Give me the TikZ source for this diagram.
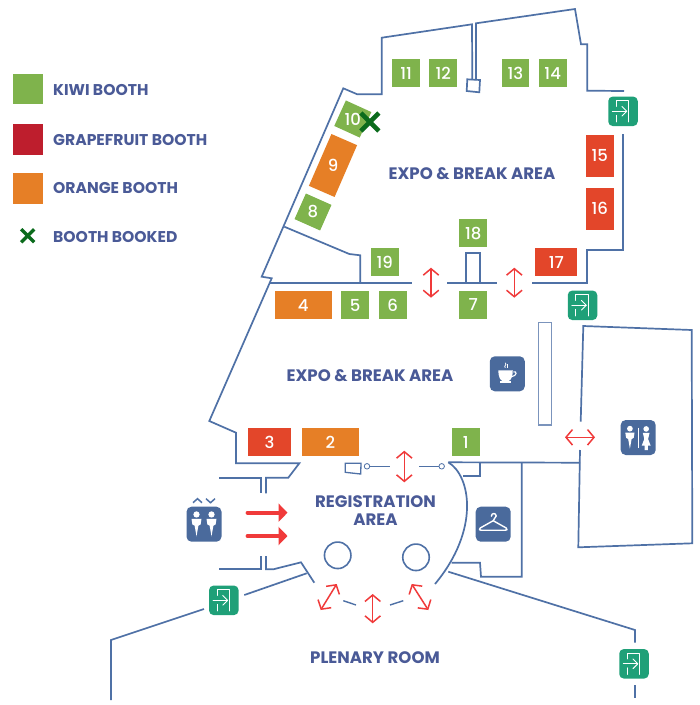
\documentclass[tikz,border=0pt]{standalone}
\usepackage{fontspec}
\setmainfont{Poppins}
\newfontfamily\medfont{Poppins Medium}
\usetikzlibrary{arrows.meta,calc}
\definecolor{wallc}{HTML}{4F71A6}
\definecolor{textc}{HTML}{4A5A97}
\definecolor{kiwi}{HTML}{7FB34C}
\definecolor{grape}{HTML}{E3462A}
\definecolor{grapeleg}{HTML}{BE1E2D}
\definecolor{orangec}{HTML}{E67F26}
\definecolor{booked}{HTML}{0B6B1C}
\definecolor{exitc}{HTML}{1FA078}
\definecolor{iconc}{HTML}{4A6A9C}
\definecolor{arrowc}{HTML}{F03A3A}
\tikzset{
  wall/.style={draw=wallc,line width=1.7pt,line join=miter},
  booth/.style={inner sep=0pt,text=white,font=\fontsize{16.5}{16.5}\selectfont\medfont},
  kb/.style={booth,fill=kiwi},
  gb/.style={booth,fill=grape},
  ob/.style={booth,fill=orangec},
  lab/.style={text=textc,font=\fontsize{16.6}{18}\selectfont\bfseries,align=center,inner sep=0pt},
  leg/.style={text=textc,font=\fontsize{15.6}{15.6}\selectfont\bfseries,anchor=west,inner sep=0pt},
  legsq/.style={minimum width=30.5pt,minimum height=30.5pt,inner sep=0pt},
  redarr/.style={draw=arrowc,line width=1.5pt,{Straight Barb[length=6.5pt,width=15.5pt]}-{Straight Barb[length=6.5pt,width=15.5pt]}},
  bigarr/.style={draw=arrowc,line width=3.8pt,-{Triangle[length=9pt,width=18pt]},line cap=round},
  xmark/.style={draw=booked,line cap=butt},
  exitbox/.style={fill=exitc,rounded corners=4.5pt,minimum width=29.5pt,minimum height=29.5pt,inner sep=0pt},
  iconbox/.style={fill=iconc,rounded corners=5pt,minimum width=35pt,minimum height=35pt,inner sep=0pt},
  iconl/.style={draw=white,line width=1pt,line cap=round,line join=round},
}
\newcommand\exitglyph[1]{%
  \begin{scope}[shift={(#1)}]
    \draw[iconl,line width=.9pt] (-6.7,-5) -- (-6.7,-10.7) -- (5.7,-10.7) -- (5.7,10.7);
    \draw[iconl,line width=.9pt] (-6.7,4) -- (-6.7,10.7);
    \draw[iconl,line width=.9pt] (-10.7,0) -- (3.6,0);
    \draw[iconl,line width=.9pt] (-1,-4.8) -- (3.8,0) -- (-1,4.8);
  \end{scope}}
\newcommand\personm[2][1]{%
  \begin{scope}[shift={(#2)},scale=#1]
    \fill[white] (0,-9) circle (2.5);
    \fill[white] (-4,-5.5) -- (4,-5.5) -- (3.3,-1) -- (1.5,0) -- (0,8.5) -- (-1.5,0) -- (-3.3,-1) -- cycle;
  \end{scope}}
\begin{document}
\begin{tikzpicture}[x=1pt,y=-1pt]
\useasboundingbox (0,0) rectangle (700,705);
\fill[white] (0,0) rectangle (700,705);

% legend
\node[legsq,fill=kiwi] (lk) at (28,89) {};
\node[legsq,fill=grapeleg] (lg) at (28,139.5) {};
\node[legsq,fill=orangec] (lo) at (28,188.5) {};
\node[leg] (tk) at (53,90) {KIWI BOOTH};
\node[leg] (tg) at (53,140) {GRAPEFRUIT BOOTH};
\node[leg] (to) at (53,188) {ORANGE BOOTH};
\node[leg] (tb) at (53,236.5) {BOOTH BOOKED};
\coordinate (lx) at (27.7,235.7);
\draw[xmark,line width=3.4pt] ([shift={(-6.5,-6.5)}]lx) -- ([shift={(6.5,6.5)}]lx);
\draw[xmark,line width=3.4pt] ([shift={(6.5,-6.5)}]lx) -- ([shift={(-6.5,6.5)}]lx);

% walls, upper hall
\draw[wall] (472.3,80) -- (472,24.3) -- (381.7,37.7) -- (381.7,94.3) -- (357.3,94.3) -- (343.3,88.3) -- (261.7,276.7) -- (271.7,278.3) -- (209.3,421) -- (236,432.7) -- (236,463.3) -- (299.3,463.3) -- (288.3,477.7) -- (266,477.7) -- (266,493.3);
\draw[wall] (476,80) -- (476,23.3) -- (575,9) -- (581,44.3) -- (587.3,44.3) -- (587.3,90.7) -- (624,91);
\draw[wall] (467.3,79.3) -- (480,80) -- (479.3,92.3) -- (466.7,91) -- cycle;
\draw[wall] (623.3,134.3) -- (623.3,250) -- (587.3,250) -- (587.3,282.7) -- (531.7,282.7);
\draw[wall] (270,283.3) -- (411.7,283.3);
\draw[wall] (447.3,283.3) -- (496.7,283.3);
\draw[wall] (284.3,226.7) -- (349.3,254) -- (360.3,255.3) -- (360.3,283.3);
\draw[wall] (465.7,283.3) -- (465.7,253.3) -- (480,253.3) -- (480,283.3);

% lower-left walls
\draw[wall] (219.3,477.7) -- (261,477.7) -- (261,493.3);
\draw[wall] (219.3,569.3) -- (261,569.3) -- (261,556);
\draw[wall] (266,556) -- (266,569.3) -- (273.3,569.3) -- (301,562.3) -- (314.3,582.7);
\draw[wall] (306.7,573.3) -- (244.3,595);
\draw[wall] (204,609) -- (111,640) -- (111,700);

% registration door and curve
\draw[wall,line width=1.3pt] (345.3,463.3) -- (361,463.3) -- (360.7,474) -- (345.3,472.3) -- cycle;
\node[circle,draw=wallc,line width=.8pt,minimum size=5.5pt,inner sep=0pt] (d1) at (367,466.3) {};
\node[circle,draw=wallc,line width=.8pt,minimum size=5.5pt,inner sep=0pt] (d2) at (441.7,466.3) {};
\coordinate (d1e) at (390,466.3);
\coordinate (d2e) at (419.3,466.3);
\draw[wallc,line width=.8pt] (d1) -- (d1e);
\draw[wallc,line width=.8pt] (d2) -- (d2e);
\draw[wall] (448.3,462.3) .. controls (471,476) and (480,530) .. (435,584);
\draw[wall] (448.3,462.3) -- (580,462.7);
\draw[wall] (480,462.3) -- (480,476.3) -- (463.3,476.3);
\draw[wall] (521.7,462.3) -- (521.7,576.7) -- (481,576.7) -- (480,562.7) -- (451.7,562.7);
\draw[wall] (448.3,571.7) -- (635,630) -- (635,642.7);
\draw[wall] (635,685) -- (635,698);
\draw[wall,line width=1.4pt] (343.3,600.7) -- (356,605);
\draw[wall,line width=1.4pt] (390,605) -- (403.3,600.7);
\node[circle,draw=wallc,line width=1.6pt,minimum size=26.5pt,inner sep=0pt] (p1) at (337.7,555.3) {};
\node[circle,draw=wallc,line width=1.6pt,minimum size=26.5pt,inner sep=0pt] (p2) at (416,557.3) {};

% right room
\draw[wall] (580.7,421.7) -- (583.3,326) -- (691.7,330) -- (692.3,543.3) -- (578.3,547.3) -- (580,450);
\draw[wallc!75,line width=1.2pt] (538.3,322.7) rectangle (551.7,425);

% booths
\node[kb,minimum width=27.7pt,minimum height=28pt] (b11) at (406.2,73.3) {11};
\node[kb,minimum width=27.7pt,minimum height=28pt] (b12) at (443.2,73.3) {12};
\node[kb,minimum width=27.7pt,minimum height=28pt] (b13) at (515.5,73.3) {13};
\node[kb,minimum width=27.7pt,minimum height=28pt] (b14) at (552.7,73.3) {14};
\node[kb,minimum width=28pt,minimum height=28pt,rotate=-24.5] (b10) at (352.8,119) {\rotatebox{24.5}{10}};
\node[ob,minimum width=28pt,minimum height=56.5pt,rotate=-23.5] (b9) at (333,165.5) {\rotatebox{23.5}{9}};
\node[kb,minimum width=28pt,minimum height=28pt,rotate=-24] (b8) at (313,212) {\rotatebox{24}{8}};
\node[gb,minimum width=28pt,minimum height=42pt] (b15) at (599.7,155.7) {15};
\node[gb,minimum width=28pt,minimum height=42.3pt] (b16) at (599.7,208.8) {16};
\node[gb,minimum width=42pt,minimum height=27.7pt] (b17) at (556.3,262.2) {17};
\node[kb,minimum width=28pt,minimum height=28.3pt] (b18) at (473.3,233.2) {18};
\node[kb,minimum width=28.3pt,minimum height=28.3pt] (b19) at (384.8,262.2) {19};
\node[ob,minimum width=57.3pt,minimum height=27.7pt] (b4) at (303.3,305.2) {4};
\node[kb,minimum width=27.7pt,minimum height=27.7pt] (b5) at (355.2,305.2) {5};
\node[kb,minimum width=28pt,minimum height=27.7pt] (b6) at (392.7,305.2) {6};
\node[kb,minimum width=28pt,minimum height=28.3pt] (b7) at (473.3,304.8) {7};
\node[gb,minimum width=42.4pt,minimum height=28pt] (b3) at (269.5,442.3) {3};
\node[ob,minimum width=57.3pt,minimum height=28pt] (b2) at (330.3,442.3) {2};
\node[kb,minimum width=28pt,minimum height=28pt] (b1) at (465.7,442.3) {1};
\coordinate (bx) at (369.8,122);
\draw[xmark,line width=4.6pt] ([shift={(-9,-9)}]bx) -- ([shift={(9,9)}]bx);
\draw[xmark,line width=4.6pt] ([shift={(9,-9)}]bx) -- ([shift={(-9,9)}]bx);

% area labels
\node[lab] (a1) at (472,173.5) {EXPO \& BREAK AREA};
\node[lab] (a2) at (370,375.5) {EXPO \& BREAK AREA};
\node[lab] (a3) at (375.5,511) {REGISTRATION\\AREA};
\node[lab] (a4) at (375,658) {PLENARY ROOM};

% red arrows
\draw[redarr] (431,267.7) -- (431,297.7);
\draw[redarr] (514.3,267.7) -- (514.3,297.7);
\draw[redarr] (404.3,450.7) -- (404.3,482.3);
\draw[redarr] (565,437.3) -- (595,437.3);
\draw[redarr] (372.7,594) -- (372.7,623.3);
\draw[redarr] (320.7,610) -- (336.7,584);
\draw[redarr] (411.7,584) -- (428.3,610);
\draw[bigarr] (247.5,512.7) -- (287.5,512.7);
\draw[bigarr] (247.5,536) -- (287.5,536);

% exit icons
\node[exitbox] (e1) at (623,111.3) {};
\node[exitbox] (e2) at (582.5,305.3) {};
\node[exitbox] (e3) at (223.8,600.3) {};
\node[exitbox] (e4) at (634,663.8) {};
\exitglyph{e1.center}
\exitglyph{e2.center}
\exitglyph{e3.center}
\exitglyph{e4.center}

% coffee icon
\node[iconbox] (coffee) at (507.3,373.8) {};
\begin{scope}[shift={(coffee.center)}]
  \fill[white] (-9,-3.5) -- (5.5,-3.5) .. controls (5.5,3) and (3.5,6.5) .. (1.5,7) -- (-5,7) .. controls (-7,6.5) and (-9,3) .. (-9,-3.5) -- cycle;
  \draw[white,line width=1.1pt] (6,-2) .. controls (10,-3) and (10,2) .. (4,3);
  \fill[white] (-7.5,7.5) rectangle (4,9);
  \draw[white,line width=.8pt] (-2,-6) .. controls (-4,-8) and (0,-9) .. (-2,-11);
  \draw[white,line width=.8pt] (0.5,-6) .. controls (-1,-8) and (2,-9) .. (0.5,-10);
\end{scope}

% restroom icon
\node[iconbox] (wc) at (638.2,437.5) {};
\personm[1.15]{$(wc.center)+(-8.3,1.5)$}
\begin{scope}[shift={($(wc.center)+(8,1.5)$)},scale=1.12]
  \fill[white] (0,-9) circle (2.5);
  \fill[white] (-3,-5.5) -- (3,-5.5) -- (1.7,0) -- (4,6) -- (1.5,6) -- (1.5,10) -- (-1.5,10) -- (-1.5,6) -- (-4,6) -- (-1.7,0) -- cycle;
\end{scope}
\draw[white,line width=.5pt] ($(wc.center)+(0,-10)$) -- ($(wc.center)+(0,10)$);

% coat-check icon
\node[iconbox] (coat) at (493.2,524.2) {};
\begin{scope}[shift={(coat.center)}]
  \draw[iconl,line width=1.4pt] (-1.8,-8) .. controls (-1.8,-11.5) and (3,-11.5) .. (3,-8.2) .. controls (3,-6) and (0,-6) .. (0,-3.5) -- (13,3.8) .. controls (15,5.5) and (13.5,6) .. (12,6) -- (-12,6) .. controls (-13.5,6) and (-15,5.5) .. (-13,3.8) -- (0,-3.5);
\end{scope}

% elevator and toilets icon
\node[iconbox] (lift) at (204,524.2) {};
\personm[1.25]{$(lift.center)+(-7.5,1.5)$}
\personm[1.25]{$(lift.center)+(7.5,1.5)$}
\draw[wallc,line width=1.5pt,line join=miter] ($(lift.center)+(-11,-21.5)$) -- ($(lift.center)+(-6.5,-25.5)$) -- ($(lift.center)+(-2,-21.5)$);
\draw[wallc,line width=1.5pt,line join=miter] ($(lift.center)+(2,-25.5)$) -- ($(lift.center)+(6.5,-21.5)$) -- ($(lift.center)+(11,-25.5)$);
\end{tikzpicture}
\end{document}
